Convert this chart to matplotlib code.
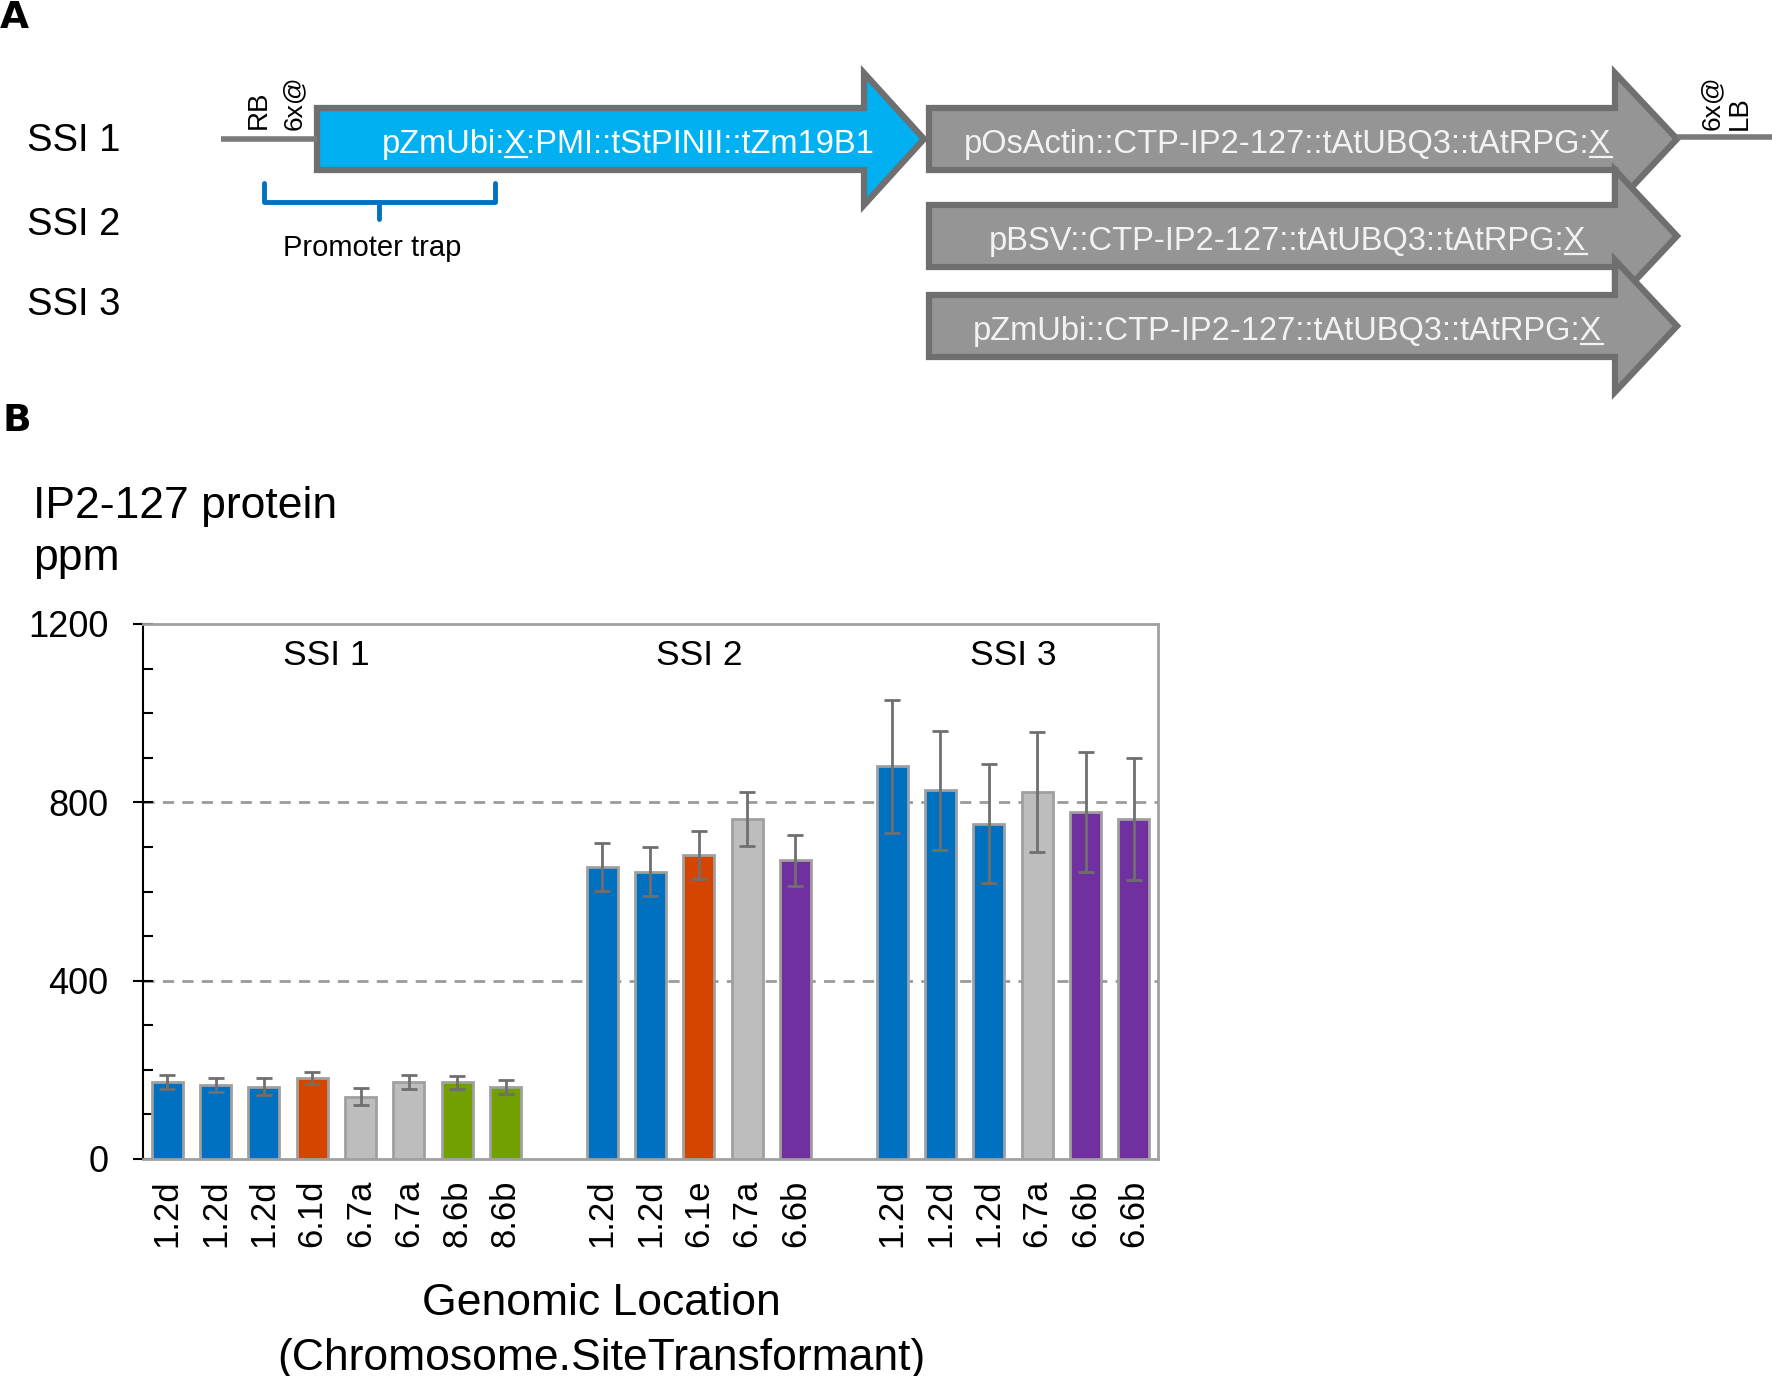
import numpy as np
import matplotlib.pyplot as plt
from matplotlib.patches import Polygon
from matplotlib.ticker import MultipleLocator, FixedLocator

plt.rcParams['font.family'] = ['Liberation Sans', 'DejaVu Sans']

# ---- data (panel B) ----
ssi1_labels = ['1.2d', '1.2d', '1.2d', '6.1d', '6.7a', '6.7a', '8.6b', '8.6b']
ssi1_values = [172, 166, 162, 182, 140, 172, 172, 162]
ssi1_errors = [16, 15, 19, 14, 19, 16, 15, 16]
ssi1_colors = ['blue', 'blue', 'blue', 'orange', 'gray', 'gray', 'green', 'green']

ssi2_labels = ['1.2d', '1.2d', '6.1e', '6.7a', '6.6b']
ssi2_values = [655, 644, 681, 763, 670]
ssi2_errors = [54, 55, 54, 60, 57]
ssi2_colors = ['blue', 'blue', 'orange', 'gray', 'purple']

ssi3_labels = ['1.2d', '1.2d', '1.2d', '6.7a', '6.6b', '6.6b']
ssi3_values = [881, 827, 752, 823, 779, 763]
ssi3_errors = [149, 134, 133, 135, 135, 137]
ssi3_colors = ['blue', 'blue', 'blue', 'gray', 'purple', 'purple']

palette = {'blue': '#0070C0', 'orange': '#D64500', 'gray': '#BDBDBD',
           'green': '#72A000', 'purple': '#7030A0'}

# ---- data (panel A) ----
ssi_names = ['SSI 1', 'SSI 2', 'SSI 3']
cassettes = [('pOsActin::CTP-IP2-127::tAtUBQ3::tAtRPG:', 'X', ''),
             ('pBSV::CTP-IP2-127::tAtUBQ3::tAtRPG:', 'X', ''),
             ('pZmUbi::CTP-IP2-127::tAtUBQ3::tAtRPG:', 'X', '')]
selection = ('pZmUbi:', 'X', ':PMI::tStPINII::tZm19B1')

W, H = 1772, 1376
fig = plt.figure(figsize=(W / 100, H / 100), dpi=100)

# overlay in pixel coordinates for the diagram and free text
ov = fig.add_axes([0, 0, 1, 1])
ov.set_xlim(0, W)
ov.set_ylim(H, 0)
ov.axis('off')
ov.patch.set_alpha(0)


def arrow(x0, xh, xt, yc, bh, hh, face):
    pts = [(x0, yc - bh), (xh, yc - bh), (xh, yc - hh), (xt, yc),
           (xh, yc + hh), (xh, yc + bh), (x0, yc + bh)]
    ov.add_patch(Polygon(pts, closed=True, facecolor=face, edgecolor='#6F6F6F',
                         linewidth=4.5, joinstyle='miter'))


# backbone lines
ov.plot([221, 317], [139, 139], color='#7A7A7A', lw=4, solid_capstyle='butt')
ov.plot([1677, 1772], [137, 137], color='#7A7A7A', lw=4, solid_capstyle='butt')

arrow(317, 864, 924, 139, 31, 66, '#00B0F0')
centers = [139, 236, 326]
for yc in centers:
    arrow(929, 1615, 1677, yc, 31, 66, '#959595')

underlined = []
t = ov.text(628, 153, ''.join(selection), fontsize=23.5, color='white',
            ha='center', va='baseline')
underlined.append((t, selection, 153))
for (pre, x, post), yc in zip(cassettes, centers):
    t = ov.text(1288, yc + 14, pre + x + post, fontsize=23.5, color='#F2F2F2',
                ha='center', va='baseline')
    underlined.append((t, (pre, x, post), yc + 14))

# border labels
ov.text(259, 129, 'RB', fontsize=20, rotation=90, ha='center', va='bottom')
ov.text(294, 130, '6x@', fontsize=19, rotation=90, ha='center', va='bottom')
ov.text(1712, 130, '6x@', fontsize=19, rotation=90, ha='center', va='bottom')
ov.text(1740, 130, 'LB', fontsize=20, rotation=90, ha='center', va='bottom')

# promoter trap bracket
ov.plot([264, 264, 495, 495], [183, 202, 202, 183], color='#0070C0', lw=3.5,
        solid_joinstyle='round', solid_capstyle='round')
ov.plot([379, 379], [202, 219], color='#0070C0', lw=3.5, solid_capstyle='round')
ov.text(372, 256, 'Promoter trap', fontsize=21, ha='center', va='baseline')

for name, yb in zip(ssi_names, [151, 235, 315]):
    ov.text(27, yb, name, fontsize=27.5, ha='left', va='baseline')

ov.text(0, 28, 'A', fontsize=27, fontweight='bold', ha='left', va='baseline',
        family=['DejaVu Sans'])
ov.text(2, 431, 'B', fontsize=27, fontweight='bold', ha='left', va='baseline',
        family=['DejaVu Sans'])

# axis titles
ov.text(33, 518, 'IP2-127 protein', fontsize=32, ha='left', va='baseline')
ov.text(33, 570, 'ppm', fontsize=32, ha='left', va='baseline')
ov.text(601, 1315, 'Genomic Location', fontsize=32, ha='center', va='baseline')
ov.text(601, 1370, '(Chromosome.SiteTransformant)', fontsize=32, ha='center',
        va='baseline')

# ---- panel B bar chart ----
ax = fig.add_axes([143 / W, 1 - 1159 / H, (1158 - 143) / W, (1159 - 624) / H])

labels = ssi1_labels + ssi2_labels + ssi3_labels
values = ssi1_values + ssi2_values + ssi3_values
errors = ssi1_errors + ssi2_errors + ssi3_errors
colors = [palette[c] for c in ssi1_colors + ssi2_colors + ssi3_colors]
pos = list(range(0, 8)) + list(range(9, 14)) + list(range(15, 21))

ax.bar(pos, values, width=0.64, color=colors, edgecolor='#A0A0A0',
       linewidth=2, zorder=3)
ax.errorbar(pos, values, yerr=errors, fmt='none', ecolor='#6F6F6F',
            elinewidth=2, capsize=5.5, capthick=2, zorder=4)

ax.set_xlim(-0.5, 20.5)
ax.set_ylim(0, 1200)
for yv in [400, 800]:
    ax.axhline(yv, color='#9A9A9A', lw=2, ls=(0, (4, 3)), zorder=1)

ax.yaxis.set_major_locator(FixedLocator([0, 400, 800, 1200]))
ax.yaxis.set_minor_locator(MultipleLocator(100))
ax.tick_params(axis='y', which='major', direction='inout', length=14,
               width=1.5, labelsize=26, pad=18)
ax.tick_params(axis='y', which='minor', direction='in', length=7, width=1.5)
ax.set_xticks(pos)
ax.set_xticklabels(labels, rotation=90, fontsize=25)
ax.tick_params(axis='x', length=0, pad=15)

ax.spines['left'].set_color('black')
ax.spines['left'].set_linewidth(1.5)
for s in ['top', 'right', 'bottom']:
    ax.spines[s].set_color('#A0A0A0')
    ax.spines[s].set_linewidth(2)

for name, xc in zip(ssi_names, [3.3, 11, 17.5]):
    ax.text(xc, 1108, name, fontsize=25.5, ha='center', va='baseline')

# underline the X in the cassette names
fig.canvas.draw()
r = fig.canvas.get_renderer()
for t, (pre, x, post), yb in underlined:
    bb = t.get_window_extent(r)
    tmp = ov.text(0, 0, pre + x, fontsize=t.get_fontsize())
    w_all = tmp.get_window_extent(r).width
    tmp.set_text(x)
    w_x = tmp.get_window_extent(r).width
    tmp.remove()
    ov.plot([bb.x0 + w_all - w_x, bb.x0 + w_all], [yb + 4, yb + 4],
            color=t.get_color(), lw=1.6)

fig.savefig('out.png', dpi=100)
